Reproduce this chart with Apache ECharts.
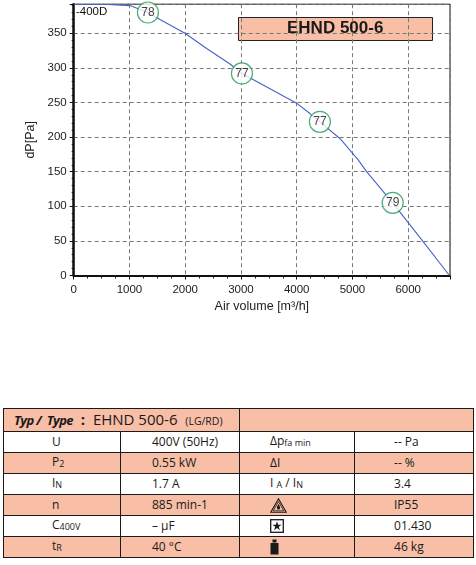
<!DOCTYPE html>
<html>
<head>
<meta charset="utf-8">
<script src="https://cdn.jsdelivr.net/npm/echarts@6/dist/echarts.min.js"></script>
<style>
  html, body { margin: 0; padding: 0; background: #fff; }
  #chart { position: absolute; left: 0; top: 0; width: 476px; height: 330px; }
  #spec {
    position: absolute; left: 3px; top: 408px; width: 470px;
    border-collapse: collapse; table-layout: fixed;
    font-family: "Open Sans", "Liberation Sans", sans-serif; font-size: 12px; color: #1a1a1a;
  }
  #spec td { border: 1.5px solid #1a1a1a; padding: 0; height: 20px; white-space: nowrap; line-height: 14px; }
  #spec tr.hd td { height: 22px; }
  #spec tr.s td { background: #f8bea6; }
  #spec td.c1 { padding-left: 48px; }
  #spec td.c2 { padding-left: 31px; }
  #spec td.c3 { padding-left: 30px; }
  #spec td.c4 { padding-left: 39px; }
  #spec sub { font-size: 9px; vertical-align: -1px; }
  .ty { font-weight: bold; font-style: italic; letter-spacing: -0.6px; font-size: 13px; }
  svg { vertical-align: middle; }
</style>
</head>
<body>
<div id="chart"></div>
<table id="spec"></table>
<script>
// pressure curve (air volume m3/h -> dP Pa)
var curveX = [0, 615, 1009, 1332, 1547, 1996, 2385, 2797, 3018, 3999, 4237, 4416, 4775, 5103, 5254, 5722, 6258, 6740];
var curveY = [392, 391.6, 390, 380, 370, 350, 328, 306, 292, 249, 234, 222, 198, 167, 150, 105, 50, 0];

// noise level markers on the curve
var markX = [1332, 3018, 4416, 5722];
var markY = [380, 292, 222, 105];
var markText = ['78', '77', '77', '79'];

var xMax = 6750, yMax = 392;
var curveName = '400D';
var typeName = 'EHND 500-6';

// spec table
var specLeft = ['U', 'P<sub>2</sub>', 'I<sub>N</sub>', 'n', 'C<sub>400V</sub>', 't<sub>R</sub>'];
var specLeftVal = ['400V (50Hz)', '0.55 kW', '1.7 A', '885 min-1', '&ndash; &micro;F', '40 &deg;C'];
var specRight = ['&Delta;p<sub>fa min</sub>', '&Delta;I', 'I <sub>A</sub> / I<sub>N</sub>', 'ICON_IP', 'ICON_STAR', 'ICON_KG'];
var specRightVal = ['-- Pa', '-- %', '3.4', 'IP55', '01.430', '46 kg'];

var icons = {
  ICON_IP: '<svg width="17" height="15" viewBox="0 0 17 15"><path d="M8.5 0.8 L16.2 14.2 L0.8 14.2 Z" fill="none" stroke="#1a1a1a" stroke-width="1.1"/>' +
           '<path d="M8.5 3.6 L13.8 12.8 L3.2 12.8 Z" fill="none" stroke="#1a1a1a" stroke-width="0.8"/>' +
           '<path d="M8.5 6 C9.6 8 10.1 9 10.1 9.9 A1.6 1.6 0 0 1 6.9 9.9 C6.9 9 7.4 8 8.5 6 Z" fill="#1a1a1a"/></svg>',
  ICON_STAR: '<svg width="14" height="14" viewBox="0 0 14 14"><rect x="0.7" y="0.7" width="12.6" height="12.6" fill="#fff" stroke="#1a1a1a" stroke-width="1.3"/>' +
             '<path d="M7 2.3 L8.2 5.7 L11.6 5.7 L8.8 7.8 L9.9 11.2 L7 9.1 L4.1 11.2 L5.2 7.8 L2.4 5.7 L5.8 5.7 Z" fill="#1a1a1a"/></svg>',
  ICON_KG: '<svg width="9" height="16" viewBox="0 0 9 16"><rect x="2.5" y="0.5" width="4" height="3" fill="#1a1a1a"/>' +
           '<rect x="0.5" y="4" width="8" height="11.5" fill="#1a1a1a"/></svg>'
};

var rows = '<colgroup><col style="width:117px"><col style="width:119px"><col style="width:115px"><col style="width:119px"></colgroup>';
rows += '<tr class="hd s"><td colspan="2" style="padding-left:10px;font-size:15px">' +
        '<span class="ty">Typ /&nbsp; Type</span>&nbsp; <b>:</b>&nbsp; ' + typeName +
        ' &nbsp;<span style="font-size:10.5px">(LG/RD)</span></td><td colspan="2"></td></tr>';
for (var i = 0; i < specLeft.length; i++) {
  var r = specRight[i];
  if (icons[r]) r = icons[r];
  rows += '<tr class="' + (i % 2 ? 's' : '') + '">' +
          '<td class="c1">' + specLeft[i] + '</td>' +
          '<td class="c2">' + specLeftVal[i] + '</td>' +
          '<td class="c3">' + r + '</td>' +
          '<td class="c4">' + specRightVal[i] + '</td></tr>';
}
document.getElementById('spec').innerHTML = rows;

var curve = curveX.map(function (x, i) { return [x, curveY[i]]; });
var marks = markX.map(function (x, i) { return { value: [x, markY[i]], name: markText[i] }; });

var axisFont = { fontFamily: 'Liberation Sans', fontSize: 11.5, color: '#222' };
var nameFont = { fontFamily: 'Liberation Sans', fontSize: 12.5, color: '#222' };

var option = {
  animation: false,
  grid: {
    left: 73.7, right: 26, top: 4.2, bottom: 54.5,
    show: true, borderColor: '#111', borderWidth: 1, backgroundColor: 'transparent'
  },
  xAxis: {
    type: 'value', min: 0, max: xMax, interval: 1000,
    name: 'Air volume [m³/h]', nameLocation: 'middle', nameGap: 24,
    nameTextStyle: nameFont,
    axisLine: { show: true, onZero: false, lineStyle: { color: '#111', width: 2 } },
    axisTick: { show: true, length: 4, lineStyle: { color: '#111' } },
    minorTick: { show: true, splitNumber: 4, length: 3, lineStyle: { color: '#111' } },
    axisLabel: Object.assign({ margin: 8, showMaxLabel: false, formatter: function (v) { return String(v); } }, axisFont),
    splitLine: { show: true, lineStyle: { color: '#777', type: [4, 3], width: 1 } }
  },
  yAxis: {
    type: 'value', min: 0, max: yMax, interval: 50,
    name: 'dP[Pa]', nameLocation: 'middle', nameGap: 34,
    nameTextStyle: nameFont,
    axisLine: { show: true, onZero: false, lineStyle: { color: '#111', width: 2.5 } },
    axisTick: { show: true, length: 4, lineStyle: { color: '#111' } },
    minorTick: { show: true, splitNumber: 5, length: 2, lineStyle: { color: '#111' } },
    axisLabel: Object.assign({ margin: 7, showMaxLabel: false }, axisFont),
    splitLine: { show: true, lineStyle: { color: '#777', type: [4, 3], width: 1 } }
  },
  series: [
    {
      type: 'line', data: curve, symbol: 'none', smooth: false,
      lineStyle: { color: '#4a62c8', width: 1.1 }
    },
    {
      type: 'scatter', data: marks, symbol: 'circle', symbolSize: 21, z: 5,
      itemStyle: { color: '#fff', borderColor: '#1f9a55', borderWidth: 1.2 },
      label: {
        show: true, position: 'inside', formatter: '{b}',
        fontFamily: 'Liberation Sans', fontSize: 12, color: '#111'
      }
    }
  ],
  graphic: [
    {
      type: 'text', left: 76, top: 6,
      style: { text: '-' + curveName, font: '11.5px "Liberation Sans"', fill: '#111' }
    },
    {
      type: 'rect', left: 238, top: 17,
      shape: { width: 194, height: 23 },
      style: { fill: '#f8bea6', stroke: '#222', lineWidth: 1 }
    },
    {
      type: 'text', left: 287, top: 20,
      style: { text: typeName, font: 'bold 17px "Liberation Sans"', fill: '#1a1a1a' }
    }
  ]
};

var ins = echarts.init(document.getElementById('chart'));
ins.setOption(option);
</script>
</body>
</html>
